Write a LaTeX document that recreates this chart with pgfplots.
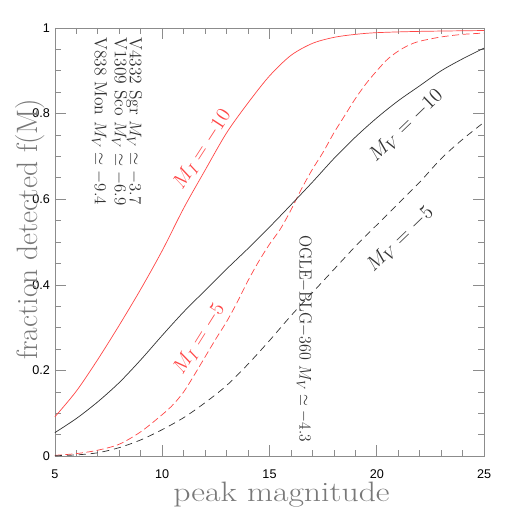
\documentclass[border=0pt]{standalone}
\usepackage{fontspec}
\usepackage{pgfplots}
\pgfplotsset{compat=1.18}
\newfontfamily\helv{Liberation Sans}
\definecolor{cred}{RGB}{255,70,70}
\definecolor{cdark}{RGB}{50,50,50}
\definecolor{cframe}{RGB}{140,140,140}
\definecolor{clabel}{RGB}{120,120,120}
\begin{document}
\begin{tikzpicture}
\begin{axis}[
    scale only axis,
    width=10.75cm, height=10.725cm,
    xmin=5, xmax=25, ymin=0, ymax=1,
    xtick={5,10,15,20,25},
    ytick={0,0.2,0.4,0.6,0.8,1},
    yticklabels={0,0.2,0.4,0.6,0.8,1},
    minor x tick num=4,
    minor y tick num=3,
    tick align=inside,
    major tick length=8pt,
    minor tick length=4.5pt,
    axis line style={cframe},
    every tick/.style={cframe, line width=0.5pt},
    tick label style={font=\helv\fontsize{9}{10}\selectfont},
    /pgf/number format/assume math mode=true,
    xticklabel style={yshift=-6pt},
    xlabel={\scalebox{1.2}[1]{peak magnitude}},
    ylabel={fraction detected f(M)},
    xlabel style={at={(axis description cs:0.528,-0.09)}, anchor=center, font=\fontsize{20}{24}\selectfont, text=clabel},
    ylabel style={at={(axis description cs:-0.058,0.53)}, anchor=center, font=\fontsize{21}{24}\selectfont, text=clabel},
    clip=false,
]
% M_I = -10
\addplot[cred, line width=0.5pt, smooth] coordinates {
 (5,0.092) (6,0.152) (7,0.226) (8,0.306) (9,0.39) (10,0.48) (11,0.579)
 (12,0.668) (13,0.755) (14,0.825) (15,0.888) (16,0.936) (17,0.964)
 (18,0.978) (19,0.985) (20,0.989) (22,0.992) (25,0.994)
};
% M_I = -5
\addplot[cred, line width=0.5pt, smooth, dash pattern=on 5pt off 2.5pt] coordinates {
 (5,0.002) (6,0.006) (7,0.014) (8,0.028) (9,0.057) (10,0.097) (10.5,0.12)
 (11,0.15) (11.5,0.19) (12,0.232) (12.5,0.274) (13,0.314) (13.5,0.36)
 (14,0.41) (14.5,0.455) (15,0.495) (15.5,0.53) (16,0.575) (16.5,0.625)
 (17,0.67) (17.5,0.71) (18,0.755) (18.5,0.795) (19,0.835) (19.5,0.87)
 (20,0.9) (20.5,0.927) (21,0.946) (21.5,0.96) (22,0.969) (23,0.979)
 (24,0.985) (25,0.988)
};
% M_V = -10
\addplot[cdark, line width=0.5pt, smooth] coordinates {
 (5,0.055) (6,0.088) (7,0.127) (8,0.172) (9,0.225) (10,0.282) (11,0.337)
 (12,0.387) (13,0.437) (14,0.485) (15,0.535) (16,0.587) (17,0.64)
 (18,0.695) (19,0.745) (20,0.79) (21,0.83) (22,0.865) (23,0.9)
 (24,0.928) (25,0.953)
};
% M_V = -5
\addplot[cdark, line width=0.5pt, smooth, dash pattern=on 5pt off 3.5pt] coordinates {
 (5,0.001) (6,0.003) (7,0.008) (8,0.02) (9,0.038) (10,0.062) (11,0.09)
 (12,0.125) (13,0.165) (14,0.215) (15,0.27) (16,0.328) (17,0.382)
 (18,0.436) (19,0.49) (20,0.54) (21,0.59) (22,0.64) (23,0.695)
 (24,0.74) (25,0.78)
};

\node[cred, rotate=57, font=\fontsize{15}{18}\selectfont] at (axis cs:11.88,0.716) {$M_I=-10$};
\node[cred, rotate=58, font=\fontsize{15}{18}\selectfont] at (axis cs:11.74,0.273) {$M_I=-5$};
\node[cdark, rotate=44, font=\fontsize{15}{18}\selectfont] at (axis cs:21.37,0.772) {$M_V=-10$};
\node[cdark, rotate=44, font=\fontsize{15}{18}\selectfont] at (axis cs:21.1,0.506) {$M_V=-5$};

\node[cdark, rotate=-90, anchor=base west, inner sep=0pt,
      font=\fontsize{12.5}{14}\selectfont] at (axis cs:8.49,0.979)
  {V4332 Sgr $M_V\simeq-3.7$};
\node[cdark, rotate=-90, anchor=base west, inner sep=0pt,
      font=\fontsize{12.5}{14}\selectfont] at (axis cs:7.79,0.979)
  {V1309 Sco $M_V\simeq-6.9$};
\node[cdark, rotate=-90, anchor=base west, inner sep=0pt,
      font=\fontsize{12.5}{14}\selectfont] at (axis cs:6.86,0.979)
  {V838 Mon $M_V\simeq-9.4$};
\node[cdark, rotate=-90, anchor=base west, inner sep=0pt,
      font=\fontsize{12.5}{14}\selectfont] at (axis cs:16.4,0.517)
  {\scalebox{0.91}[1]{OGLE$-$BLG$-$360 $M_V\simeq-4.3$}};
\end{axis}
\path (current axis.south west) ++(-1.375cm,-1.375cm) rectangle ([xshift=0.675cm,yshift=0.7cm]current axis.north east);
\end{tikzpicture}
\end{document}
